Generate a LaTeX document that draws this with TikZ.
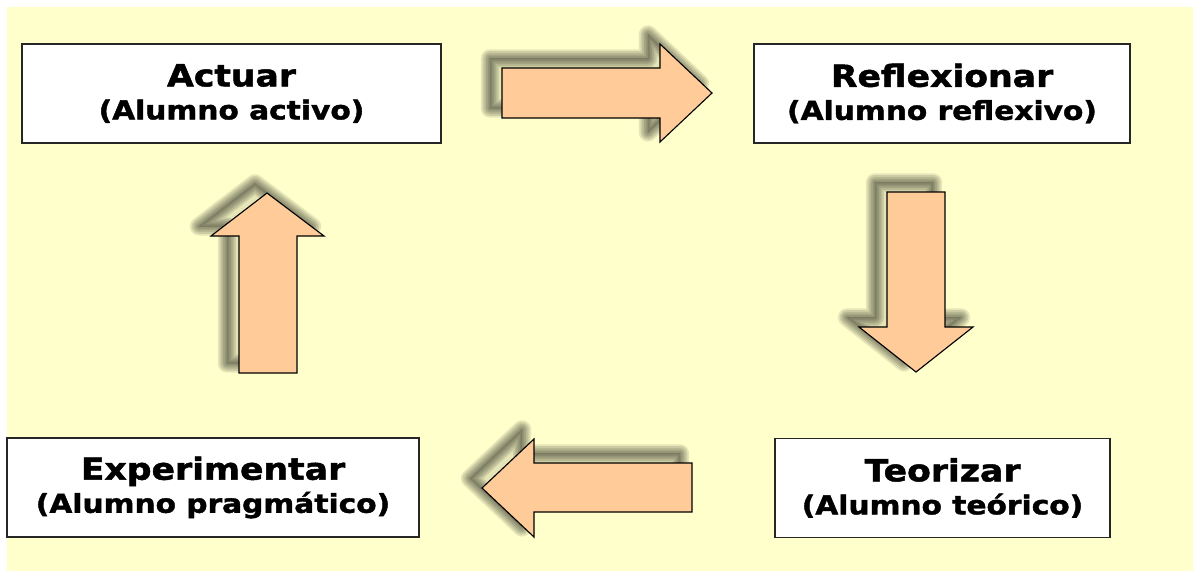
\documentclass[tikz,border=0pt]{standalone}
\usepackage{fontspec}
\newfontfamily\stagefont[FakeStretch=1.14,FakeBold=1.6]{DejaVu Sans}
\definecolor{fondo}{HTML}{FFFFCC}
\definecolor{flecha}{HTML}{FFCC99}
\newcommand{\stagesub}{\fontsize{18.5pt}{23.5pt}\selectfont}
\newcommand{\arrowright}{(12.55,-1.7) -- (16.5,-1.7) -- (16.5,-1.1) -- (17.8,-2.325) -- (16.5,-3.55) -- (16.5,-2.95) -- (12.55,-2.95) -- cycle}
\newcommand{\arrowdown}{(22.175,-4.8) -- (23.625,-4.8) -- (23.625,-8.175) -- (24.325,-8.175) -- (22.9,-9.3) -- (21.475,-8.175) -- (22.175,-8.175) -- cycle}
\newcommand{\arrowleft}{(17.3,-11.575) -- (13.35,-11.575) -- (13.35,-10.975) -- (12.05,-12.2) -- (13.35,-13.425) -- (13.35,-12.8) -- (17.3,-12.8) -- cycle}
\newcommand{\arrowup}{(5.975,-9.325) -- (5.975,-5.9) -- (5.275,-5.9) -- (6.675,-4.825) -- (8.1,-5.9) -- (7.425,-5.9) -- (7.425,-9.325) -- cycle}
\tikzset{
  stage/.style={draw=black!85, line width=1.2pt, fill=white, align=center, inner sep=0pt,
    minimum height=2.475cm, font=\stagefont\bfseries\fontsize{21.6pt}{23.5pt}\selectfont},
  bigarrow/.style={draw=black, line width=0.8pt, line join=miter, fill=flecha},
  shadowlayer/.style={black, opacity=0.1, line join=round, xshift=-0.3cm, yshift=0.24cm}
}
\begin{document}
\begin{tikzpicture}
\useasboundingbox (0,0) rectangle (29.85,-14.275);
\fill [fondo] (0.175,-0.175) rectangle (29.825,-14.275);
\node [stage, minimum width=10.475cm] (actuar) at (5.7875,-2.3375) {Actuar\\{\stagesub (Alumno activo)}};
\node [stage, minimum width=9.4cm] (reflexionar) at (23.55,-2.3375) {Reflexionar\\{\stagesub (Alumno reflexivo)}};
\node [stage, minimum width=8.375cm] (teorizar) at (23.5625,-12.2) {Teorizar\\{\stagesub (Alumno teórico)}};
\node [stage, minimum width=10.3cm] (experimentar) at (5.325,-12.1875) {Experimentar\\{\stagesub (Alumno pragmático)}};
\fill [shadowlayer] \arrowright;
\fill [shadowlayer] \arrowdown;
\fill [shadowlayer] \arrowleft;
\fill [shadowlayer] \arrowup;
\foreach \w in {13,10.5,8,5.5,3,0.5} {
  \draw [shadowlayer, line width=\w pt] \arrowright;
  \draw [shadowlayer, line width=\w pt] \arrowdown;
  \draw [shadowlayer, line width=\w pt] \arrowleft;
  \draw [shadowlayer, line width=\w pt] \arrowup;
}
\draw [bigarrow] \arrowright;
\draw [bigarrow] \arrowdown;
\draw [bigarrow] \arrowleft;
\draw [bigarrow] \arrowup;
\end{tikzpicture}
\end{document}
